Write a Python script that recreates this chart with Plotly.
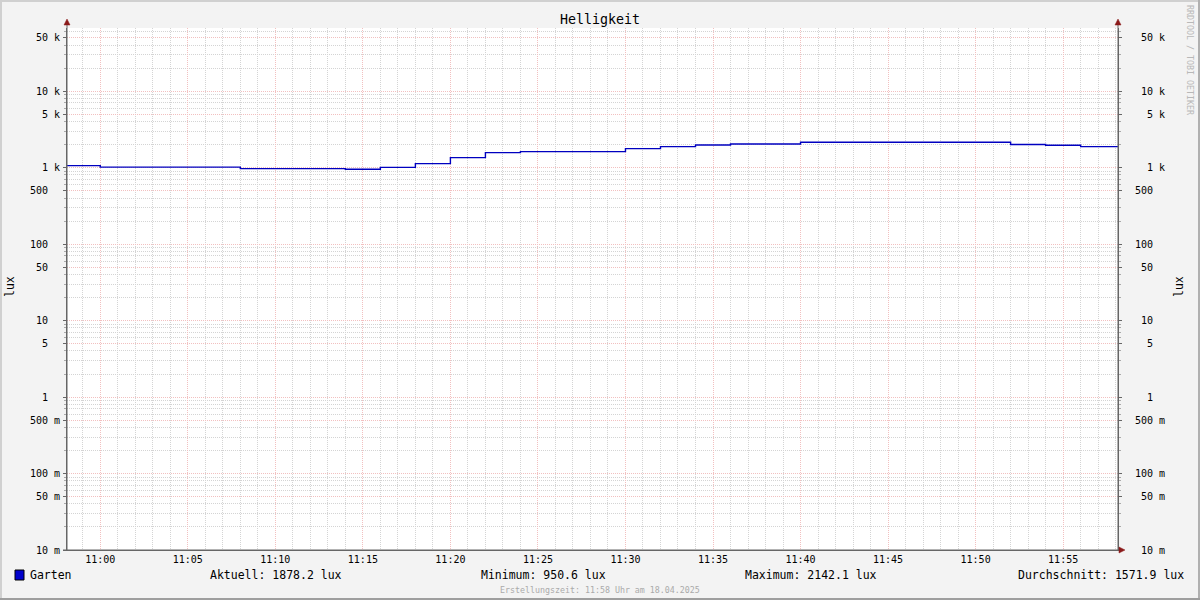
import plotly.graph_objects as go
import pandas as pd

# ---------------- data ----------------
title_text = "Helligkeit"
series_name = "Garten"
unit = "lux"
step_times = pd.date_range("2025-04-18 10:58:00", "2025-04-18 11:56:00", freq="2min")
lux_values = [1062, 1015, 1015, 1015, 1015, 970, 970, 970, 950.6, 1005,
              1128, 1351, 1571, 1619, 1619, 1619, 1771, 1881, 1975, 2035,
              2035, 2142.1, 2142.1, 2142.1, 2142.1, 2142.1, 2142.1, 2000, 1957, 1878.2]
range_start = "2025-04-18 10:58:06"
range_end = "2025-04-18 11:58:08"

stat_current = 1878.2
stat_min = 950.6
stat_max = 2142.1
stat_avg = 1571.9

x_major_ticks = pd.date_range("2025-04-18 11:00", "2025-04-18 11:55", freq="5min")
x_major_labels = [t.strftime("%H:%M") for t in x_major_ticks]
x_minor_ticks = [t for t in pd.date_range("2025-04-18 10:59", "2025-04-18 11:58", freq="1min")
                 if t.minute % 5 != 0]

y_major_vals = [0.01, 0.05, 0.1, 0.5, 1, 5, 10, 50, 100, 500, 1000, 5000, 10000, 50000]
y_major_labels = ["10 m", "50 m", "100 m", "500 m", "1  ", "5  ", "10  ", "50  ",
                  "100  ", "500  ", "1 k", "5 k", "10 k", "50 k"]
y_minor_vals = [m * 10 ** k for k in range(-2, 5) for m in (2, 3, 4, 6, 7, 8, 9)] + [60000]
footer_text = "Erstellungszeit: 11:58 Uhr am 18.04.2025"
watermark = "RRDTOOL / TOBI OETIKER"

# ---------------- layout helpers ----------------
W, H = 1200, 600
L, R, T, B = 67, 82, 28, 50
PW, PH = W - L - R, H - T - B
MONO = "DejaVu Sans Mono"

def px(x):
    return (x - L) / PW

def py(y):
    return (H - B - y) / PH

labels_padded = [s.rjust(5).replace(" ", "\u00a0") for s in y_major_labels]

fig = go.Figure()
x_line = list(step_times) + [pd.Timestamp(range_end)]
y_line = lux_values + [lux_values[-1]]
fig.add_trace(go.Scatter(x=x_line, y=y_line, mode="lines", line=dict(color="#0000c0", width=1.4, shape="hv"),
                         name=series_name, showlegend=False, hoverinfo="skip"))
fig.add_trace(go.Scatter(x=x_line, y=y_line, mode="lines", line=dict(color="rgba(0,0,0,0)", width=0),
                         yaxis="y2", showlegend=False, hoverinfo="skip"))

grid_major = "#f2c0c0"
grid_minor = "#d4d4d4"
axis_col = "#666666"

yaxis_common = dict(
    type="log", range=[-2, 4.825], tickmode="array", tickvals=y_major_vals, ticktext=labels_padded,
    tickfont=dict(family=MONO, size=10, color="#000"), ticks="outside", ticklen=3, tickcolor=axis_col,
    showline=True, linecolor=axis_col, linewidth=1, zeroline=False, fixedrange=True,
)

fig.update_layout(
    width=W, height=H, margin=dict(l=L, r=R, t=T, b=B, autoexpand=False),
    paper_bgcolor="#f3f3f3", plot_bgcolor="#ffffff", showlegend=False,
    xaxis=dict(
        type="date", range=[range_start, range_end], tickmode="array", tickvals=list(x_major_ticks),
        ticktext=x_major_labels, tickfont=dict(family=MONO, size=10, color="#000"),
        showgrid=True, gridcolor=grid_major, griddash="1px,1px", gridwidth=1,
        ticks="", showline=True, linecolor=axis_col, linewidth=1, zeroline=False, fixedrange=True,
        minor=dict(tickmode="array", tickvals=x_minor_ticks, showgrid=True, gridcolor=grid_minor,
                   griddash="1px,1px", gridwidth=1, ticks=""),
    ),
    yaxis=dict(**yaxis_common, side="left", showgrid=True, gridcolor=grid_major, griddash="1px,1px",
               gridwidth=1, ticklabelstandoff=1,
               minor=dict(tickmode="array", tickvals=y_minor_vals, showgrid=True, gridcolor=grid_minor,
                          griddash="1px,1px", gridwidth=1, ticks="outside", ticklen=2, tickcolor="#aaaaaa")),
    yaxis2=dict(**yaxis_common, side="right", overlaying="y", anchor="x", showgrid=False,
                ticklabelstandoff=11,
                minor=dict(tickmode="array", tickvals=y_minor_vals, showgrid=False,
                           ticks="outside", ticklen=2, tickcolor="#aaaaaa")),
)

shapes = []
# frame
shapes.append(dict(type="rect", xref="paper", yref="paper", x0=px(0), x1=px(2), y0=py(600), y1=py(0),
                   fillcolor="#d0d0d0", line_width=0, layer="above"))
shapes.append(dict(type="rect", xref="paper", yref="paper", x0=px(0), x1=px(1200), y0=py(2), y1=py(0),
                   fillcolor="#d0d0d0", line_width=0, layer="above"))
shapes.append(dict(type="rect", xref="paper", yref="paper", x0=px(1198), x1=px(1200), y0=py(600), y1=py(0),
                   fillcolor="#b0b0b0", line_width=0, layer="above"))
shapes.append(dict(type="rect", xref="paper", yref="paper", x0=px(0), x1=px(1200), y0=py(600), y1=py(598),
                   fillcolor="#9e9e9e", line_width=0, layer="above"))
# axis extensions
shapes.append(dict(type="line", xref="paper", yref="paper", x0=px(67), x1=px(67), y0=py(550), y1=py(22),
                   line=dict(color=axis_col, width=1), layer="above"))
shapes.append(dict(type="line", xref="paper", yref="paper", x0=px(1118), x1=px(1118), y0=py(550), y1=py(22),
                   line=dict(color=axis_col, width=1), layer="above"))
shapes.append(dict(type="line", xref="paper", yref="paper", x0=px(63), x1=px(1122), y0=py(550), y1=py(550),
                   line=dict(color=axis_col, width=1), layer="above"))
# arrows
arrow_col = "#8b1a1a"
for ax in (67, 1118):
    shapes.append(dict(type="path", xref="paper", yref="paper",
                       path=f"M {px(ax-3)} {py(25)} L {px(ax+3)} {py(25)} L {px(ax)} {py(19)} Z",
                       fillcolor=arrow_col, line=dict(color=arrow_col, width=0.5), layer="above"))
shapes.append(dict(type="path", xref="paper", yref="paper",
                   path=f"M {px(1119)} {py(547)} L {px(1119)} {py(553)} L {px(1125)} {py(550)} Z",
                   fillcolor=arrow_col, line=dict(color=arrow_col, width=0.5), layer="above"))
# legend box
shapes.append(dict(type="rect", xref="paper", yref="paper", x0=px(15), x1=px(24), y0=py(580), y1=py(570),
                   fillcolor="#0000cc", line=dict(color="#000000", width=1), layer="above"))
fig.update_layout(shapes=shapes)

def ann(text, x, y, size, color="#000", xanchor="left", angle=0, family=MONO):
    fig.add_annotation(text=text, x=px(x), y=py(y), xref="paper", yref="paper", showarrow=False,
                       xanchor=xanchor, yanchor="middle", textangle=angle, borderpad=0,
                       font=dict(family=family, size=size, color=color))

ann(title_text, 600, 19, 13.3, xanchor="center")
ann(unit, 10, 287, 11.5, xanchor="center", angle=-90)
ann(unit, 1179, 287, 11.5, xanchor="center", angle=-90)
ann(watermark, 1190, 60, 8.3, color="#b8b8b8", xanchor="center", angle=90)
ann(series_name, 29, 575, 11.5)
ann(f"Aktuell: {stat_current:.1f} {unit}", 209, 575, 11.5)
ann(f"Minimum: {stat_min:.1f} {unit}", 480, 575, 11.5)
ann(f"Maximum: {stat_max:.1f} {unit}", 744, 575, 11.5)
ann(f"Durchschnitt: {stat_avg:.1f} {unit}", 1185, 575, 11.5, xanchor="right")
ann(footer_text, 600, 589.5, 8.3, color="#aaaaaa", xanchor="center")

fig.write_html("out.html", config={"displayModeBar": False, "staticPlot": True},
               post_script="document.body.style.margin='0px';document.body.style.overflow='hidden';")
